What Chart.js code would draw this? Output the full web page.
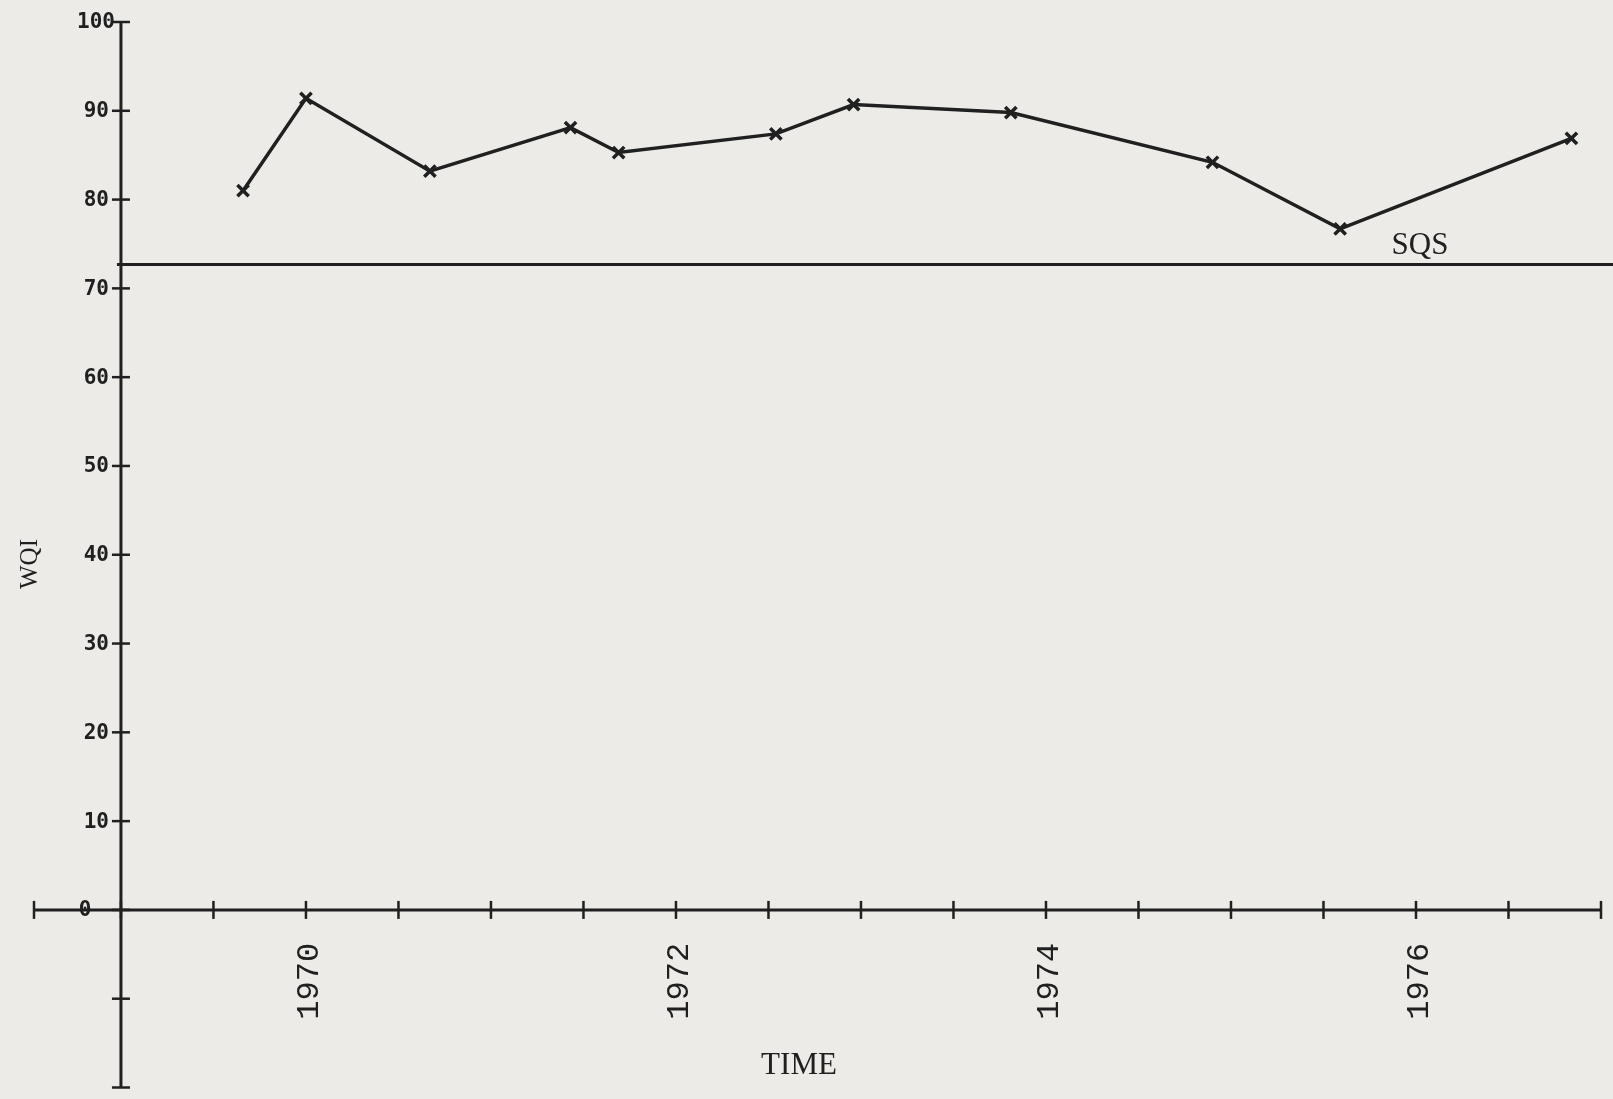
<!DOCTYPE html>
<html>
<head>
  <title>WQI over time</title>
  <script src="https://cdn.jsdelivr.net/npm/chart.js@4.4.0/dist/chart.umd.min.js"></script>
  <style>
    html, body { margin: 0; padding: 0; background: #ecebe8; }
    canvas { display: block; }
  </style>
</head>
<body>
  <canvas id="wqiChart" width="1613" height="1099"></canvas>

  <script>
    // sampling dates (decimal years) and the WQI read at each one
    const sampleYears = [1969.66, 1970.0, 1970.67, 1971.43, 1971.69, 1972.54, 1972.96, 1973.81, 1974.9, 1975.59, 1976.84];
    const wqiValues = [81.0, 91.4, 83.2, 88.1, 85.3, 87.4, 90.7, 89.8, 84.2, 76.7, 86.9];
    const sqsLevel = 72.7;

    const yTicks = [-20, -10, 0, 10, 20, 30, 40, 50, 60, 70, 80, 90, 100];
    const yTickLabels = ['', '', '0', '10', '20', '30', '40', '50', '60', '70', '80', '90', '100'];
    const xTicks = [1969, 1969.5, 1970, 1970.5, 1971, 1971.5, 1972, 1972.5, 1973,
                    1973.5, 1974, 1974.5, 1975, 1975.5, 1976, 1976.5, 1977];
    const yearLabels = ['1970', '1972', '1974', '1976'];

    const ink = '#202020';

    function seg(ctx, x1, y1, x2, y2) {
      ctx.beginPath();
      ctx.moveTo(x1, y1);
      ctx.lineTo(x2, y2);
      ctx.stroke();
    }

    // axes crossing at (1969, 0), plotter-style with ticks through the line
    const plotterAxes = {
      id: 'plotterAxes',
      beforeDatasetsDraw(chart) {
        const {ctx, chartArea, scales: {x, y}} = chart;
        const x0 = x.getPixelForValue(1969);
        const y0 = y.getPixelForValue(0);
        ctx.save();
        ctx.strokeStyle = ink;

        ctx.lineWidth = 3;
        seg(ctx, x0, chartArea.top, x0, chartArea.bottom);
        seg(ctx, chartArea.left, y0, chartArea.right, y0);

        ctx.lineWidth = 2.5;
        yTicks.forEach(v => {
          const py = y.getPixelForValue(v);
          seg(ctx, x0 - 9, py, x0 + 9, py);
        });
        xTicks.forEach(v => {
          const px = x.getPixelForValue(v);
          seg(ctx, px, y0 - 9, px, y0 + 9);
        });
        seg(ctx, chartArea.left, y0 - 9, chartArea.left, y0 + 9);

        // SQS reference line runs to the page edge
        ctx.lineWidth = 3;
        const ps = y.getPixelForValue(sqsLevel);
        seg(ctx, x0 - 4, ps, chart.width, ps);

        ctx.fillStyle = ink;
        ctx.font = 'bold 21px "DejaVu Sans Mono"';
        ctx.textBaseline = 'middle';
        yTicks.forEach((v, i) => {
          const lbl = yTickLabels[i];
          if (!lbl) return;
          const py = y.getPixelForValue(v) + 1;
          if (v === 0) {
            ctx.textAlign = 'center';
            ctx.fillText(lbl, x0 - 36, py);
          } else {
            ctx.textAlign = 'right';
            ctx.fillText(lbl, lbl.length > 2 ? x0 - 6 : x0 - 12, py);
          }
        });

        ctx.font = '32px "Liberation Mono"';
        ctx.textAlign = 'right';
        yearLabels.forEach(lbl => {
          const px = x.getPixelForValue(Number(lbl));
          ctx.save();
          ctx.translate(px + 4, y0 + 33);
          ctx.rotate(-Math.PI / 2);
          ctx.fillText(lbl, 0, 0);
          ctx.restore();
        });

        ctx.textAlign = 'center';
        ctx.font = '31px "Liberation Serif"';
        ctx.fillText('TIME', 799, 1066);
        ctx.fillText('SQS', 1420, ps - 19);

        ctx.font = '25px "Liberation Serif"';
        ctx.save();
        ctx.translate(30, 564);
        ctx.rotate(-Math.PI / 2);
        ctx.fillText('WQI', 0, 0);
        ctx.restore();

        ctx.restore();
      }
    };

    const ctx = document.getElementById('wqiChart').getContext('2d');
    new Chart(ctx, {
      type: 'line',
      data: {
        datasets: [{
          label: 'WQI',
          data: sampleYears.map((yr, i) => ({x: yr, y: wqiValues[i]})),
          borderColor: ink,
          borderWidth: 3.5,
          tension: 0,
          fill: false,
          pointStyle: 'crossRot',
          pointRadius: 8,
          pointBorderWidth: 3.5,
          pointBorderColor: ink
        }]
      },
      options: {
        responsive: false,
        animation: false,
        layout: {
          padding: {left: 34, right: 12, top: 22, bottom: 1}
        },
        scales: {
          x: {type: 'linear', min: 1968.53, max: 1977, display: false},
          y: {type: 'linear', min: -20, max: 100, display: false}
        },
        plugins: {
          legend: {display: false},
          tooltip: {enabled: false}
        }
      },
      plugins: [plotterAxes]
    });
  </script>
</body>
</html>
